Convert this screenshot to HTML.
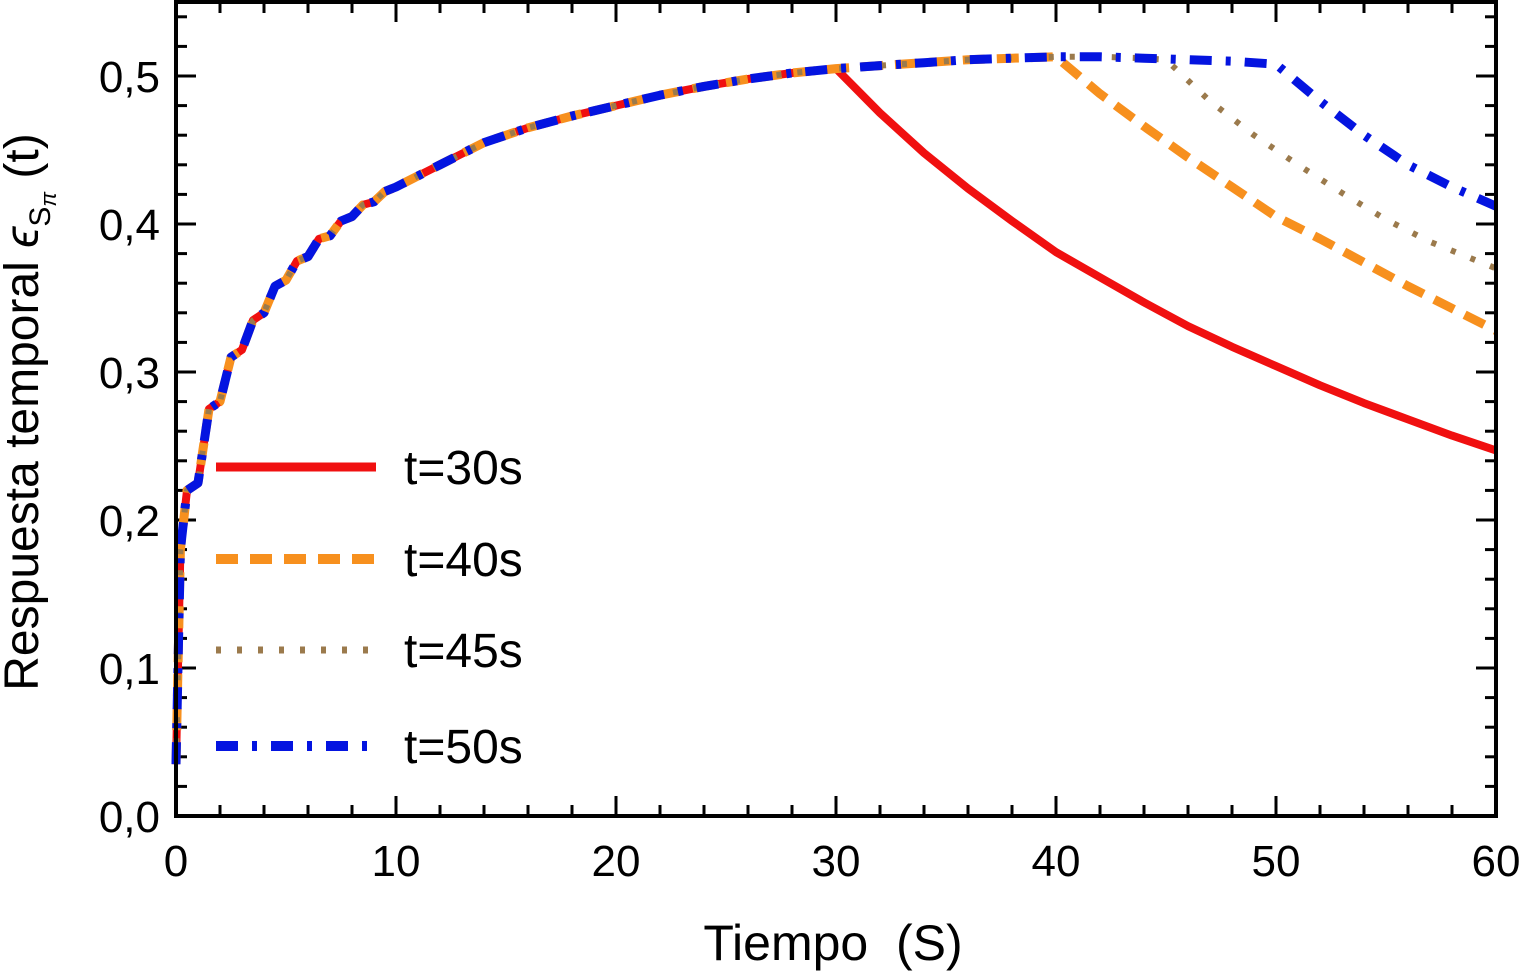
<!DOCTYPE html>
<html><head><meta charset="utf-8"><style>
html,body{margin:0;padding:0;background:#fff;width:1520px;height:972px;overflow:hidden}
svg{display:block;font-family:"Liberation Sans",Arial,sans-serif}
</style></head><body>
<svg id="chart" width="1520" height="972" viewBox="0 0 1520 972">
<g id="ticks"></g>
<g id="series"></g>
<rect x="176" y="2" width="1320" height="814" fill="none" stroke="#000" stroke-width="4"/>
<g id="labels" font-size="44" fill="#000"></g>
<text x="833" y="960" font-size="50" text-anchor="middle" xml:space="preserve">Tiempo  (S)</text>
<text transform="translate(38,412) rotate(-90)" font-size="48" text-anchor="middle">Respuesta temporal <tspan font-style="italic">ϵ</tspan><tspan font-size="30" dy="12">S</tspan><tspan font-size="22" dy="6" font-style="italic">π</tspan><tspan dy="-18"> (t)</tspan></text>
<g id="legend" font-size="48"></g>
</svg>
<script>
const xTicks=[0,10,20,30,40,50,60];
const yTicks=[0,0.1,0.2,0.3,0.4,0.5];
const yTickLabels=["0,0","0,1","0,2","0,3","0,4","0,5"];
const riseT=[0,0.2,0.5,1,1.5,2,2.5,3,3.5,4,4.5,5,5.5,6,6.5,7,7.5,8,8.5,9,9.5,10,12,14,16,18,20,22,24,26,28,30];
const riseV=[0.035,0.18,0.22,0.225,0.275,0.28,0.31,0.315,0.335,0.34,0.358,0.362,0.375,0.378,0.39,0.392,0.402,0.405,0.413,0.415,0.422,0.425,0.44,0.455,0.465,0.473,0.48,0.487,0.493,0.498,0.502,0.505];
const plateauT=[32,34,36,38,40,42,44,46,48,50];
const plateauV=[0.507,0.509,0.511,0.512,0.513,0.513,0.512,0.511,0.510,0.508];
const redT=[32,34,36,38,40,42,44,46,48,50,52,54,56,58,60];
const redV=[0.475,0.448,0.424,0.402,0.381,0.364,0.347,0.331,0.317,0.304,0.291,0.279,0.268,0.257,0.247];
const orangeT=[42,44,46,48,50,52,54,56,58,60];
const orangeV=[0.488,0.466,0.445,0.425,0.405,0.39,0.374,0.358,0.343,0.328];
const brownT=[47,49,51,53,55,57,60];
const brownV=[0.483,0.46,0.44,0.421,0.403,0.388,0.37];
const blueT=[52,54,56,58,60];
const blueV=[0.483,0.46,0.44,0.425,0.412];
const legendLabels=["t=30s","t=40s","t=45s","t=50s"];

const X0=176,X1=1496,Y0=816,Y1=2,XMAX=60,YMAX=0.55;
const sx=t=>X0+(t/XMAX)*(X1-X0);
const sy=v=>Y0-(v/YMAX)*(Y0-Y1);
const NS="http://www.w3.org/2000/svg";
function mk(tag,attrs,parent){const e=document.createElementNS(NS,tag);for(const k in attrs)e.setAttribute(k,attrs[k]);parent.appendChild(e);return e;}

const tk=document.getElementById('ticks');
for(let t=0;t<=60;t+=2){const major=t%10===0;const L=major?20:11;
  const a=mk('line',{x1:sx(t),x2:sx(t),y1:Y0,y2:Y0-L,stroke:'#000','stroke-width':3},tk);
  
  const b=mk('line',{x1:sx(t),x2:sx(t),y1:Y1,y2:Y1+L,stroke:'#000','stroke-width':3},tk);
  }
for(let i=0;i<=27;i++){const v=i*0.02;const major=i%5===0;const L=major?20:11;
  const a=mk('line',{x1:X0,x2:X0+L,y1:sy(v),y2:sy(v),stroke:'#000','stroke-width':3},tk);
  
  const b=mk('line',{x1:X1,x2:X1-L,y1:sy(v),y2:sy(v),stroke:'#000','stroke-width':3},tk);
  }
const lb=document.getElementById('labels');
xTicks.forEach(t=>{const e=mk('text',{x:sx(t),y:876,'text-anchor':'middle'},lb);e.textContent=String(t);
  });
yTicks.forEach((v,i)=>{const e=mk('text',{x:160,y:sy(v)+16,'text-anchor':'end'},lb);e.textContent=yTickLabels[i];
  });

const styles=[
 {c:'#f01010',w:8,d:''},
 {c:'#f7901e',w:9,d:'22 12'},
 {c:'#9b7a4c',w:6,d:'5 16'},
 {c:'#0414e0',w:9,d:'22 14 5 14'}];
function pts(tArr,vArr){return tArr.map((t,i)=>[sx(t),sy(vArr[i])]);}
const rise=pts(riseT,riseV);
function plateauUpTo(T){const r=[];plateauT.forEach((t,i)=>{if(t<=T)r.push([sx(t),sy(plateauV[i])]);});return r;}
const curves=[
 rise.concat(pts(redT,redV)),
 rise.concat(plateauUpTo(40),pts(orangeT,orangeV)),
 rise.concat(plateauUpTo(45),[[sx(45),sy(0.511)]],pts(brownT,brownV)),
 rise.concat(plateauUpTo(50),pts(blueT,blueV))];
const names=['series-t30','series-t40','series-t45','series-t50'];
const sg=document.getElementById('series');
curves.forEach((p,i)=>{const s=styles[i];
  const d='M'+p.map(q=>q[0].toFixed(1)+','+q[1].toFixed(1)).join(' L');
  const e=mk('path',{d:d,fill:'none',stroke:s.c,'stroke-width':s.w,'stroke-dasharray':s.d,'stroke-linejoin':'round'},sg);
  });
const lg=document.getElementById('legend');
const ly=[467,559,650,746];
legendLabels.forEach((l,i)=>{const s=styles[i];
  const ln=mk('line',{x1:216,x2:376,y1:ly[i],y2:ly[i],stroke:s.c,'stroke-width':s.w+1,'stroke-dasharray':s.d},lg);
  
  const tx=mk('text',{x:404,y:ly[i]+17},lg);tx.textContent=l;
  });
</script>
</body></html>
